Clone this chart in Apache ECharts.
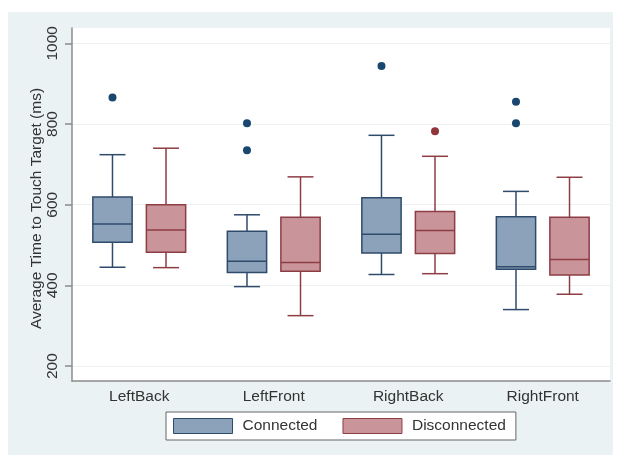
<!DOCTYPE html>
<html><head><meta charset="utf-8">
<script src="https://cdn.jsdelivr.net/npm/echarts@6/dist/echarts.min.js"></script>
<style>html,body{margin:0;padding:0;background:#fff}#c{width:617px;height:455px}</style>
</head><body><div id="c"></div>
<script>
const categories = ['LeftBack', 'LeftFront', 'RightBack', 'RightFront'];
const seriesNames = ['Connected', 'Disconnected'];
// [lowerWhisker, Q1, median, Q3, upperWhisker]
const connectedBoxes = [
  [445, 507, 552, 619, 724],
  [397, 432, 460, 534, 575],
  [427, 480, 527, 617, 772],
  [340, 440, 446, 570, 633]
];
const disconnectedBoxes = [
  [444, 482, 537, 600, 740],
  [325, 435, 457, 569, 669],
  [429, 479, 536, 583, 720],
  [378, 426, 464, 569, 668]
];
// [categoryIndex, value]
const connectedOutliers = [[0, 866], [1, 802], [1, 735], [2, 944], [3, 855], [3, 802]];
const disconnectedOutliers = [[2, 782]];
const yTicks = [200, 400, 600, 800, 1000];
const yTitle = 'Average Time to Touch Target (ms)';

const FONT = 'Liberation Sans, Arial, sans-serif';
const C_FILL = '#8ca2ba', C_LINE = '#2f4b6b', C_DOT = '#1a476f';
const D_FILL = '#c9959a', D_LINE = '#8e3d45', D_DOT = '#90353b';

function boxData(boxes) {
  return boxes.map((b, i) => [i].concat(b));
}
function boxRenderer(side, fill, stroke) {
  return function (params, api) {
    const ci = api.value(0);
    const band = api.size([1, 0])[0];
    const off = side * band * 0.199;
    const bw = band * 0.292;
    const cap = band * 0.193;
    const lo = api.coord([ci, api.value(1)]);
    const q1 = api.coord([ci, api.value(2)]);
    const med = api.coord([ci, api.value(3)]);
    const q3 = api.coord([ci, api.value(4)]);
    const hi = api.coord([ci, api.value(5)]);
    const x = lo[0] + off;
    const ls = { stroke: stroke, lineWidth: 1.5 };
    return {
      type: 'group',
      children: [
        { type: 'line', shape: { x1: x, y1: hi[1], x2: x, y2: q3[1] }, style: ls },
        { type: 'line', shape: { x1: x, y1: q1[1], x2: x, y2: lo[1] }, style: ls },
        { type: 'line', shape: { x1: x - cap / 2, y1: hi[1], x2: x + cap / 2, y2: hi[1] }, style: ls },
        { type: 'line', shape: { x1: x - cap / 2, y1: lo[1], x2: x + cap / 2, y2: lo[1] }, style: ls },
        { type: 'rect', shape: { x: x - bw / 2, y: q3[1], width: bw, height: q1[1] - q3[1] }, style: { fill: fill, stroke: stroke, lineWidth: 1.5 } },
        { type: 'line', shape: { x1: x - bw / 2, y1: med[1], x2: x + bw / 2, y2: med[1] }, style: ls }
      ]
    };
  };
}
function dotRenderer(side, color) {
  return function (params, api) {
    const ci = api.value(0);
    const band = api.size([1, 0])[0];
    const p = api.coord([ci, api.value(1)]);
    return { type: 'circle', shape: { cx: p[0] + side * band * 0.199, cy: p[1], r: 4 }, style: { fill: color } };
  };
}

const chart = echarts.init(document.getElementById('c'), null, { renderer: 'canvas' });
chart.setOption({
  animation: false,
  backgroundColor: '#ffffff',
  textStyle: { fontFamily: FONT },
  graphic: [{
    type: 'rect', z: -10, silent: true,
    shape: { x: 8, y: 12, width: 605, height: 443 },
    style: { fill: '#eaf2f3' }
  }],
  grid: {
    left: 72, right: 7, top: 28, bottom: 74,
    show: true, backgroundColor: '#ffffff', borderWidth: 0
  },
  legend: {
    left: 166, top: 412,
    data: [
      { name: seriesNames[0], icon: 'rect', itemStyle: { color: C_FILL, borderColor: C_LINE, borderWidth: 1 } },
      { name: seriesNames[1], icon: 'rect', itemStyle: { color: D_FILL, borderColor: D_LINE, borderWidth: 1 } }
    ],
    itemWidth: 59, itemHeight: 15, itemGap: 25,
    backgroundColor: '#ffffff', borderColor: '#666666', borderWidth: 1, borderRadius: 0,
    padding: [6, 10, 6, 7],
    textStyle: { fontFamily: FONT, fontSize: 15.5, color: '#333', padding: [0, 0, 0, 5] },
    selectedMode: false
  },
  xAxis: {
    type: 'category', data: categories, boundaryGap: true,
    axisLine: { lineStyle: { color: '#8c8c8c', width: 1.5 } },
    axisTick: { show: false },
    axisLabel: { fontSize: 15.5, color: '#333', margin: 8, fontFamily: FONT },
    splitLine: { show: false }
  },
  yAxis: {
    type: 'value', min: 163, max: 1038,
    name: yTitle, nameLocation: 'middle', nameGap: 27, nameRotate: 90, nameMoveOverlap: false,
    nameTextStyle: { fontSize: 15.5, color: '#333', fontFamily: FONT, padding: [0, 8, 0, 0] },
    axisLine: { show: true, lineStyle: { color: '#8c8c8c', width: 1.5 } },
    axisTick: { show: true, length: 7, customValues: yTicks, lineStyle: { color: '#8c8c8c', width: 1.5 } },
    axisLabel: { rotate: 90, fontSize: 15.5, color: '#333', margin: 11, customValues: yTicks, fontFamily: FONT, formatter: v => String(v) },
    splitLine: { show: true, lineStyle: { color: '#eef1f1', width: 1 } }
  },
  series: [
    {
      name: seriesNames[0], type: 'custom', itemStyle: { color: C_FILL },
      renderItem: boxRenderer(-1, C_FILL, C_LINE),
      encode: { x: 0, y: [1, 2, 3, 4, 5] },
      data: boxData(connectedBoxes)
    },
    {
      name: seriesNames[1], type: 'custom', itemStyle: { color: D_FILL },
      renderItem: boxRenderer(1, D_FILL, D_LINE),
      encode: { x: 0, y: [1, 2, 3, 4, 5] },
      data: boxData(disconnectedBoxes)
    },
    {
      name: seriesNames[0], type: 'custom', itemStyle: { color: C_FILL },
      renderItem: dotRenderer(-1, C_DOT),
      encode: { x: 0, y: 1 },
      data: connectedOutliers
    },
    {
      name: seriesNames[1], type: 'custom', itemStyle: { color: D_FILL },
      renderItem: dotRenderer(1, D_DOT),
      encode: { x: 0, y: 1 },
      data: disconnectedOutliers
    }
  ]
});
</script>
</body></html>
